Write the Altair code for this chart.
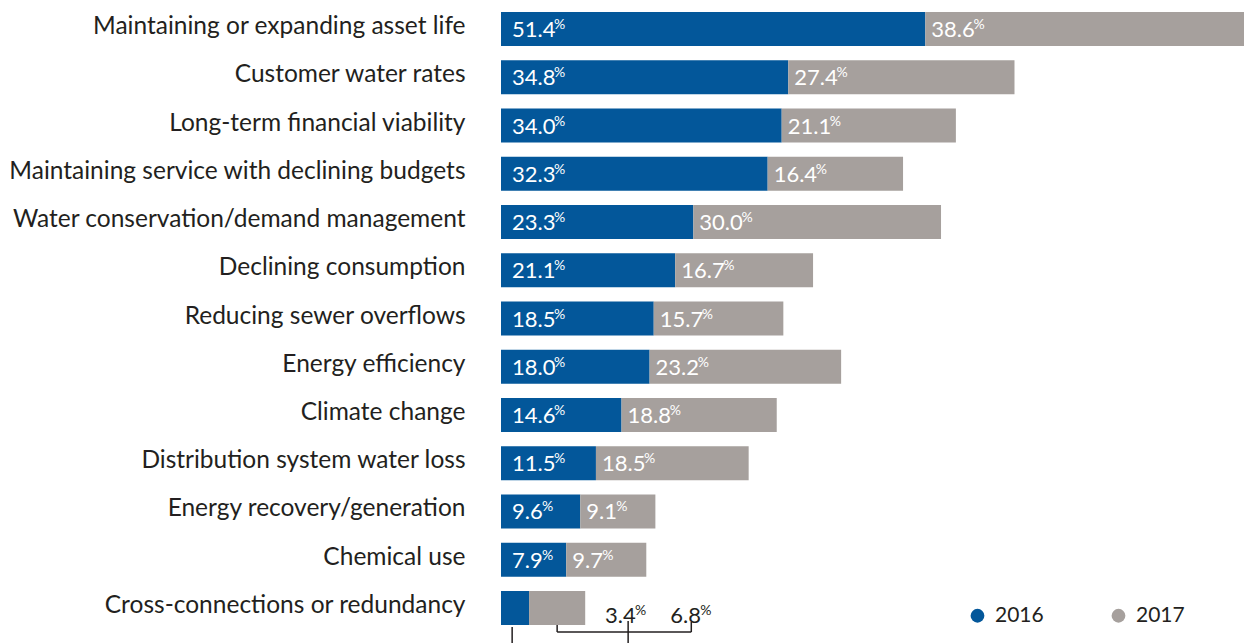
import altair as alt
import pandas as pd

categories = [
    "Maintaining or expanding asset life",
    "Customer water rates",
    "Long-term financial viability",
    "Maintaining service with declining budgets",
    "Water conservation/demand management",
    "Declining consumption",
    "Reducing sewer overflows",
    "Energy efficiency",
    "Climate change",
    "Distribution system water loss",
    "Energy recovery/generation",
    "Chemical use",
    "Cross-connections or redundancy",
]
v2016 = [51.4, 34.8, 34.0, 32.3, 23.3, 21.1, 18.5, 18.0, 14.6, 11.5, 9.6, 7.9, 3.4]
v2017 = [38.6, 27.4, 21.1, 16.4, 30.0, 16.7, 15.7, 23.2, 18.8, 18.5, 9.1, 9.7, 6.8]
years = ["2016", "2017"]
colors = ["#03579a", "#a6a09d"]

W, H = 743, 621
XMAX = 90
U = XMAX / W  # data units per pixel
FONT = "Lato"
VFS = 22


def text_w(s):
    return sum(5.1 if c == "." else 12.0 for c in s)


rows = []
for c, a, b in zip(categories, v2016, v2017):
    for yr, s, e, v in [("2016", 0, a, a), ("2017", a, a + b, b)]:
        lab = f"{v:.1f}"
        pad = 11 if yr == "2016" else 6
        rows.append(dict(cat=c, year=yr, start=s, end=e, val=v, lab=lab,
                         tx=s + pad * U, px=s + (pad + text_w(lab) + 1) * U,
                         inside=(c != categories[-1])))
df = pd.DataFrame(rows)

yenc = alt.Y("cat:N", sort=categories,
             scale=alt.Scale(paddingInner=0.2953, paddingOuter=0.083),
             axis=alt.Axis(title=None, domain=False, ticks=False, labelFontSize=24.5,
                           labelFont=FONT, labelColor="#231f20", labelPadding=36,
                           labelOffset=-2, labelLimit=520))
xscale = alt.Scale(domain=[0, XMAX], nice=False, zero=True)

bars = alt.Chart(df).mark_bar(size=34).encode(
    y=yenc,
    x=alt.X("start:Q", scale=xscale, axis=None),
    x2="end:Q",
    color=alt.Color("year:N", scale=alt.Scale(domain=years, range=colors),
                    legend=alt.Legend(title=None, orient="none", legendX=466, legendY=597,
                                      direction="horizontal", symbolType="circle",
                                      symbolSize=190, symbolStrokeWidth=0,
                                      labelFontSize=21, labelFont=FONT, labelColor="#231f20",
                                      columnPadding=64, labelOffset=7, padding=0)),
)

inside = df[df["inside"]]
vals = alt.Chart(inside).mark_text(align="left", baseline="middle", dy=1, fontSize=VFS,
                                   font=FONT, color="white").encode(
    y=alt.Y("cat:N", sort=categories), x=alt.X("tx:Q"), text="lab:N")
pcts = alt.Chart(inside).mark_text(align="left", baseline="middle", dy=-4, fontSize=14,
                                   font=FONT, color="white").encode(
    y=alt.Y("cat:N", sort=categories), x=alt.X("px:Q"), text=alt.value("%"))

# outside labels for the last row
last = df[~df["inside"]].copy()
out_x = [12.6, 20.5]
last["ox"] = out_x
last["opx"] = [x + (text_w(l) + 1) * U for x, l in zip(out_x, last["lab"])]
ovals = alt.Chart(last).mark_text(align="left", baseline="middle", dy=8, fontSize=VFS,
                                  font=FONT, color="#231f20").encode(
    y=alt.Y("cat:N", sort=categories), x="ox:Q", text="lab:N")
opcts = alt.Chart(last).mark_text(align="left", baseline="middle", dy=3, fontSize=14,
                                  font=FONT, color="#231f20").encode(
    y=alt.Y("cat:N", sort=categories), x="opx:Q", text=alt.value("%"))

# bracket connectors under the last row
br_x = [1.35, 6.8, 6.8, 23.05, 15.4]
br_x2 = [1.35, 6.8, 23.05, 23.05, 15.4]
br_y = [619, 617, 624, 614, 613]
br_y2 = [640, 624, 624, 624, 640]
br = pd.DataFrame(dict(x=br_x, x2=br_x2, y=br_y, y2=br_y2))
rules = alt.Chart(br).mark_rule(color="#231f20", strokeWidth=1.5).encode(
    x="x:Q", x2="x2:Q", y=alt.Y("y:Q", scale=None), y2="y2:Q")

chart = alt.layer(bars, vals, pcts, ovals, opcts, rules).properties(
    width=W, height=H,
    autosize=alt.AutoSizeParams(type="none"),
    padding={"left": 493, "top": 0, "right": 0, "bottom": 20},
).configure_view(stroke=None)

chart.save("out.html", embed_options={"renderer": "svg", "actions": False})
